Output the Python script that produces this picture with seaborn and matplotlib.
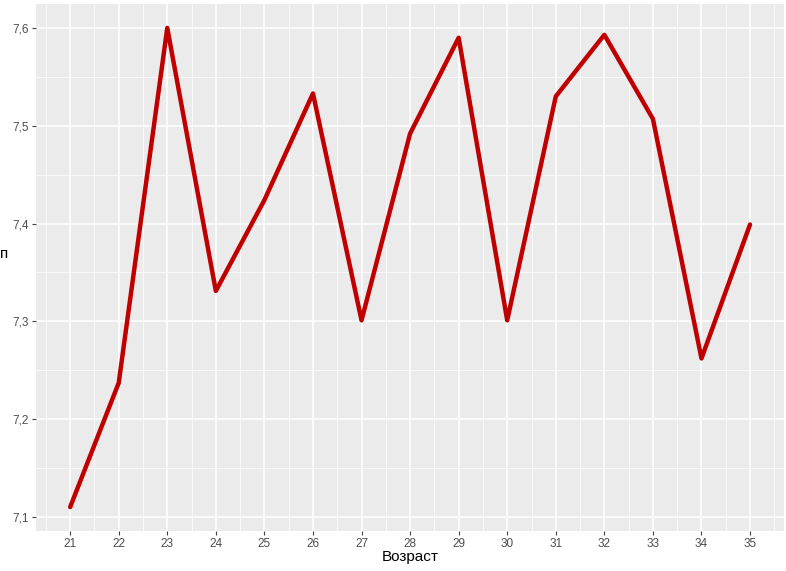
import matplotlib
matplotlib.use("Agg")
import matplotlib.pyplot as plt
from matplotlib.ticker import FuncFormatter, MultipleLocator
import pandas as pd
import seaborn as sns

age = [21, 22, 23, 24, 25, 26, 27, 28, 29, 30, 31, 32, 33, 34, 35]
value = [7.110, 7.237, 7.600, 7.331, 7.424, 7.533, 7.301, 7.492,
         7.590, 7.301, 7.530, 7.593, 7.507, 7.262, 7.399]

df = pd.DataFrame({"Возраст": age, "value": value})

sns.set_theme(style="darkgrid", rc={
    "axes.facecolor": "#EBEBEB",
    "grid.color": "white",
    "axes.edgecolor": "#EBEBEB",
})
plt.rcParams['font.family'] = ['Liberation Sans', 'DejaVu Sans']

fig = plt.figure(figsize=(7.86, 5.71), dpi=100)
ax = fig.add_axes([0.046, 0.070, 0.9515, 0.923])

sns.lineplot(data=df, x="Возраст", y="value", color="#C00000", linewidth=3.2, ax=ax)

ax.set_xlim(21 - 0.7, 35 + 0.7)
ax.set_ylim(7.0855, 7.6245)
ax.set_xticks(age)
ax.yaxis.set_major_locator(MultipleLocator(0.1))
ax.yaxis.set_minor_locator(MultipleLocator(0.05))
ax.xaxis.set_minor_locator(MultipleLocator(0.5))
ax.yaxis.set_major_formatter(FuncFormatter(lambda v, p: f"{v:.1f}".replace(".", ",")))
ax.grid(which="major", color="white", linewidth=1.1)
ax.grid(which="minor", color="white", linewidth=0.5)
ax.tick_params(which="major", length=3, width=0.8, color="#444444",
               labelsize=8.5, labelcolor="#4D4D4D", pad=2,
               bottom=True, left=True)
ax.tick_params(which="minor", length=0)
ax.set_xlabel("Возраст", fontsize=11, color="black", labelpad=0)
ax.set_ylabel("")
for s in ax.spines.values():
    s.set_visible(False)

fig.text(0.0, 0.555, "п", fontsize=11, color="black", ha="left", va="center")

fig.savefig("out.png", dpi=100)
